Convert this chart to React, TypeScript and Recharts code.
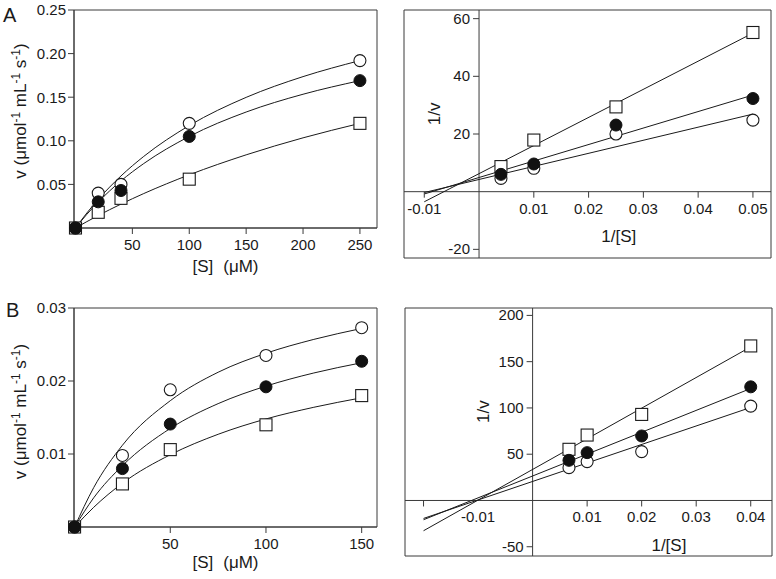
import React from 'react';
import {
  ComposedChart,
  XAxis,
  YAxis,
  Scatter,
  Line,
  ReferenceArea,
  ReferenceLine,
  ReferenceDot,
} from 'recharts';

const FONT = '"Liberation Sans", Arial, Helvetica, sans-serif';
const INK = '#1a1a1a';
const AX = '#3a3a3a';
const TICK_FS = 15;
const TITLE_FS = 17;

// ---------- Panel A : v vs [S] ----------
const sA = [0, 20, 40, 100, 250];
const vA_open = [0, 0.04, 0.05, 0.12, 0.192];
const vA_filled = [0, 0.03, 0.043, 0.105, 0.169];
const vA_square = [0, 0.018, 0.034, 0.056, 0.12];
const fitA_s = [0, 10, 20, 40, 60, 100, 150, 200, 250];
const fitA_open = [0, 0.0172, 0.0328, 0.0597, 0.0821, 0.1175, 0.1498, 0.1736, 0.192];
const fitA_filled = [0, 0.0157, 0.0298, 0.054, 0.0739, 0.105, 0.133, 0.1534, 0.169];
const fitA_square = [0, 0.0073, 0.0143, 0.0274, 0.0395, 0.061, 0.0839, 0.1034, 0.12];
const xTicksA = [50, 100, 150, 200, 250];
const yTicksA = [0.05, 0.1, 0.15, 0.2, 0.25];

// ---------- Panel A : double reciprocal ----------
const invSA = [0.004, 0.01, 0.025, 0.05];
const invA_open = [4.6, 8.1, 20.0, 24.8];
const invA_filled = [6.0, 9.6, 23.1, 32.3];
const invA_square = [8.7, 17.9, 29.4, 55.2];
const lbFitA_x = [-0.01, 0.05];
const lbFitA_open = [-0.3, 26.9];
const lbFitA_filled = [-0.8, 33.5];
const lbFitA_square = [-3.5, 55.0];
const lbA_xTickMarks = [-0.01, 0.01, 0.02, 0.03, 0.04, 0.05];
const lbA_xTickLabels = ['-0.01', '0.01', '0.02', '0.03', '0.04', '0.05'];
const lbA_xTickLabelPos = [-0.01, 0.01, 0.02, 0.03, 0.04, 0.05];
const lbA_yTicks = [60, 40, 20, -20];

// ---------- Panel B : v vs [S] ----------
const sB = [0, 25, 50, 100, 150];
const vB_open = [0, 0.0098, 0.0188, 0.0235, 0.0273];
const vB_filled = [0, 0.008, 0.0141, 0.0192, 0.0227];
const vB_square = [0, 0.0059, 0.0106, 0.014, 0.018];
const fitB_s = [0, 10, 25, 50, 75, 100, 125, 150];
const fitB_open = [0, 0.0054, 0.0112, 0.0173, 0.0212, 0.0238, 0.0257, 0.0272];
const fitB_filled = [0, 0.004, 0.0084, 0.0135, 0.0169, 0.0193, 0.0211, 0.0225];
const fitB_square = [0, 0.0027, 0.006, 0.0099, 0.0127, 0.0148, 0.0164, 0.0177];
const xTicksB = [50, 100, 150];
const yTicksB = [0.01, 0.02, 0.03];

// ---------- Panel B : double reciprocal ----------
const invSB = [0.00667, 0.01, 0.02, 0.04];
const invB_open = [35.5, 42, 52.8, 102];
const invB_filled = [43.4, 51.7, 69.7, 122.8];
const invB_square = [55.3, 70.7, 93, 167];
const lbFitB_x = [-0.02, 0.04];
const lbFitB_open = [-19.4, 100.5];
const lbFitB_filled = [-20.8, 121];
const lbFitB_square = [-32.7, 166];
const lbB_xTickMarks = [-0.02, 0.01, 0.02, 0.03, 0.04];
const lbB_xTickLabels = ['-0.01', '0.01', '0.02', '0.03', '0.04'];
const lbB_xTickLabelPos = [-0.01, 0.01, 0.02, 0.03, 0.04];
const lbB_yTicks = [200, 150, 100, 50, -50];

const pts = (xs: number[], ys: number[]) => xs.map((x, i) => ({ x, y: ys[i] }));

// ---------- marker shapes ----------
const OpenCircle = (p: any) => (
  <circle cx={p.cx} cy={p.cy} r={6} fill="#fff" stroke={INK} strokeWidth={1.1} />
);
const FilledCircle = (p: any) => (
  <circle cx={p.cx} cy={p.cy} r={6} fill="#111" stroke="#111" strokeWidth={1} />
);
const OpenSquare = (p: any) => (
  <rect x={p.cx - 6} y={p.cy - 6} width={12} height={12} fill="#fff" stroke={INK} strokeWidth={1.1} />
);

const textProps = { fontFamily: FONT, fill: INK };

// ---------- label content for left panels ----------
const yTitleLeft = (letter: string, letterX: number, letterY: number, centerShift: number) => (props: any) => {
  const vb = props.viewBox || { x: 0, y: 0, width: 74, height: 218 };
  const bx = vb.x + 26;
  const by = vb.y + vb.height / 2 + centerShift;
  return (
    <g>
      <text
        x={bx}
        y={by}
        transform={`rotate(-90 ${bx} ${by})`}
        textAnchor="middle"
        fontSize={TITLE_FS}
        {...textProps}
      >
        <tspan>v</tspan>
        <tspan> (μmol</tspan>
        <tspan dy={-6} fontSize={12}>-1</tspan>
        <tspan dy={6}> mL</tspan>
        <tspan dy={-6} fontSize={12}>-1</tspan>
        <tspan dy={6}> s</tspan>
        <tspan dy={-6} fontSize={12}>-1</tspan>
        <tspan dy={6}>)</tspan>
      </text>
      <text x={letterX} y={letterY} fontSize={20} {...textProps}>
        {letter}
      </text>
    </g>
  );
};

const xTitleLeft = (below: number) => (props: any) => {
  const vb = props.viewBox || { x: 74, y: 228, width: 303, height: 60 };
  const cx = vb.x + vb.width / 2;
  return (
    <text x={cx} y={vb.y + below} textAnchor="middle" fontSize={TITLE_FS} {...textProps}>
      <tspan>[S]</tspan>
      <tspan dx={10}>(μM)</tspan>
    </text>
  );
};

// ---------- shapes for the crossing axes of right panels ----------
const xTickMark = (p: any) => (
  <line x1={p.cx} y1={p.cy} x2={p.cx} y2={p.cy + 6} stroke={AX} strokeWidth={1} />
);
const xTickLabel = (label: string) => (p: any) => (
  <text x={p.cx} y={p.cy + 22} textAnchor="middle" fontSize={TICK_FS} {...textProps}>
    {label}
  </text>
);
const yTick = (label: string) => (p: any) => (
  <g>
    <line x1={p.cx - 6} y1={p.cy} x2={p.cx} y2={p.cy} stroke={AX} strokeWidth={1} />
    <text x={p.cx - 9} y={p.cy + 5} textAnchor="end" fontSize={TICK_FS} {...textProps}>
      {label}
    </text>
  </g>
);
const xTitleRight = (below: number) => (p: any) => (
  <text x={p.cx} y={p.cy + below} textAnchor="middle" fontSize={TITLE_FS} {...textProps}>
    1/[S]
  </text>
);
const yTitleRight = (left: number) => (p: any) => {
  const bx = p.cx - left;
  return (
    <text
      x={bx}
      y={p.cy}
      transform={`rotate(-90 ${bx} ${p.cy})`}
      textAnchor="middle"
      fontSize={TITLE_FS}
      {...textProps}
    >
      1/v
    </text>
  );
};

type LeftProps = {
  width: number;
  height: number;
  marginTop: number;
  xAxisHeight: number;
  xDomain: [number, number];
  yDomain: [number, number];
  xTicks: number[];
  yTicks: number[];
  yFmt: (v: number) => string;
  s: number[];
  open: number[];
  filled: number[];
  square: number[];
  fitS: number[];
  fitOpen: number[];
  fitFilled: number[];
  fitSquare: number[];
  letter: string;
  letterX: number;
  letterY: number;
  xTitleBelow: number;
  yTitleShift: number;
};

function LeftPanel(pr: LeftProps) {
  return (
    <ComposedChart
      width={pr.width}
      height={pr.height}
      margin={{ top: pr.marginTop, right: 13, bottom: 0, left: 0 }}
    >
      <XAxis
        type="number"
        dataKey="x"
        domain={pr.xDomain}
        ticks={pr.xTicks}
        interval={0}
        height={pr.xAxisHeight}
        tickSize={6}
        tickMargin={5}
        tick={{ fontSize: TICK_FS, fill: INK, fontFamily: FONT }}
        tickLine={{ stroke: AX }}
        axisLine={{ stroke: AX }}
        label={xTitleLeft(pr.xTitleBelow)}
      />
      <YAxis
        type="number"
        dataKey="y"
        domain={pr.yDomain}
        ticks={pr.yTicks}
        interval={0}
        width={74}
        tickSize={6}
        tickMargin={2}
        tickFormatter={pr.yFmt}
        tick={{ fontSize: TICK_FS, fill: INK, fontFamily: FONT }}
        tickLine={{ stroke: AX }}
        axisLine={{ stroke: AX }}
        label={yTitleLeft(pr.letter, pr.letterX, pr.letterY, pr.yTitleShift)}
      />
      <ReferenceArea
        x1={pr.xDomain[0]}
        x2={pr.xDomain[1]}
        y1={pr.yDomain[0]}
        y2={pr.yDomain[1]}
        fill="none"
        fillOpacity={0}
        stroke={AX}
        strokeWidth={1}
        strokeOpacity={1}
        ifOverflow="visible"
      />
      <Line data={pts(pr.fitS, pr.fitSquare)} dataKey="y" type="monotone" dot={false} stroke={INK} strokeWidth={1} isAnimationActive={false} />
      <Line data={pts(pr.fitS, pr.fitFilled)} dataKey="y" type="monotone" dot={false} stroke={INK} strokeWidth={1} isAnimationActive={false} />
      <Line data={pts(pr.fitS, pr.fitOpen)} dataKey="y" type="monotone" dot={false} stroke={INK} strokeWidth={1} isAnimationActive={false} />
      <Scatter data={pts(pr.s, pr.square)} dataKey="y" shape={OpenSquare} isAnimationActive={false} />
      <Scatter data={pts(pr.s, pr.open)} dataKey="y" shape={OpenCircle} isAnimationActive={false} />
      <Scatter data={pts(pr.s, pr.filled)} dataKey="y" shape={FilledCircle} isAnimationActive={false} />
    </ComposedChart>
  );
}

type RightProps = {
  width: number;
  height: number;
  margin: { top: number; right: number; bottom: number; left: number };
  xDomain: [number, number];
  yDomain: [number, number];
  invS: number[];
  open: number[];
  filled: number[];
  square: number[];
  fitX: number[];
  fitOpen: number[];
  fitFilled: number[];
  fitSquare: number[];
  xTickMarks: number[];
  xTickLabels: string[];
  xTickLabelPos: number[];
  yTicks: number[];
  xTitleAt: number;
  xTitleBelow: number;
  yTitleAt: number;
  yTitleLeft: number;
};

function RightPanel(pr: RightProps) {
  return (
    <ComposedChart width={pr.width} height={pr.height} margin={pr.margin}>
      <XAxis type="number" dataKey="x" domain={pr.xDomain} hide />
      <YAxis type="number" dataKey="y" domain={pr.yDomain} hide />
      <ReferenceArea
        x1={pr.xDomain[0]}
        x2={pr.xDomain[1]}
        y1={pr.yDomain[0]}
        y2={pr.yDomain[1]}
        fill="none"
        fillOpacity={0}
        stroke={AX}
        strokeWidth={1}
        strokeOpacity={1}
        ifOverflow="visible"
      />
      <ReferenceLine x={0} stroke={AX} strokeWidth={1} />
      <ReferenceLine y={0} stroke={AX} strokeWidth={1} />
      {pr.xTickMarks.map((t) => (
        <ReferenceDot key={'xm' + t} x={t} y={0} r={1} shape={xTickMark} ifOverflow="visible" />
      ))}
      {pr.xTickLabelPos.map((t, i) => (
        <ReferenceDot key={'xl' + t} x={t} y={0} r={1} shape={xTickLabel(pr.xTickLabels[i])} ifOverflow="visible" />
      ))}
      {pr.yTicks.map((t) => (
        <ReferenceDot key={'y' + t} x={0} y={t} r={1} shape={yTick(String(t))} ifOverflow="visible" />
      ))}
      <ReferenceDot x={pr.xTitleAt} y={0} r={1} shape={xTitleRight(pr.xTitleBelow)} ifOverflow="visible" />
      <ReferenceDot x={0} y={pr.yTitleAt} r={1} shape={yTitleRight(pr.yTitleLeft)} ifOverflow="visible" />
      <Line data={pts(pr.fitX, pr.fitSquare)} dataKey="y" type="linear" dot={false} stroke={INK} strokeWidth={1} isAnimationActive={false} />
      <Line data={pts(pr.fitX, pr.fitFilled)} dataKey="y" type="linear" dot={false} stroke={INK} strokeWidth={1} isAnimationActive={false} />
      <Line data={pts(pr.fitX, pr.fitOpen)} dataKey="y" type="linear" dot={false} stroke={INK} strokeWidth={1} isAnimationActive={false} />
      <Scatter data={pts(pr.invS, pr.square)} dataKey="y" shape={OpenSquare} isAnimationActive={false} />
      <Scatter data={pts(pr.invS, pr.open)} dataKey="y" shape={OpenCircle} isAnimationActive={false} />
      <Scatter data={pts(pr.invS, pr.filled)} dataKey="y" shape={FilledCircle} isAnimationActive={false} />
    </ComposedChart>
  );
}

const fmt2 = (v: number) => v.toFixed(2);

export default function App() {
  return (
    <div
      style={{
        position: 'absolute',
        left: 0,
        top: 0,
        width: 776,
        height: 579,
        background: '#fff',
        overflow: 'hidden',
      }}
    >
      <div style={{ position: 'absolute', left: 0, top: 0 }}>
        <LeftPanel
          width={390}
          height={290}
          marginTop={10}
          xAxisHeight={62}
          xDomain={[-1.3, 265]}
          yDomain={[0, 0.25]}
          xTicks={xTicksA}
          yTicks={yTicksA}
          yFmt={fmt2}
          s={sA}
          open={vA_open}
          filled={vA_filled}
          square={vA_square}
          fitS={fitA_s}
          fitOpen={fitA_open}
          fitFilled={fitA_filled}
          fitSquare={fitA_square}
          letter="A"
          letterX={3}
          letterY={22}
          xTitleBelow={44}
          yTitleShift={-8}
        />
      </div>
      <div style={{ position: 'absolute', left: 390, top: 0 }}>
        <RightPanel
          width={386}
          height={290}
          margin={{ top: 10, right: 5, bottom: 32, left: 14 }}
          xDomain={[-0.0137, 0.0533]}
          yDomain={[-23, 63]}
          invS={invSA}
          open={invA_open}
          filled={invA_filled}
          square={invA_square}
          fitX={lbFitA_x}
          fitOpen={lbFitA_open}
          fitFilled={lbFitA_filled}
          fitSquare={lbFitA_square}
          xTickMarks={lbA_xTickMarks}
          xTickLabels={lbA_xTickLabels}
          xTickLabelPos={lbA_xTickLabelPos}
          yTicks={lbA_yTicks}
          xTitleAt={0.0255}
          xTitleBelow={50}
          yTitleAt={27}
          yTitleLeft={39}
        />
      </div>
      <div style={{ position: 'absolute', left: 0, top: 290 }}>
        <LeftPanel
          width={390}
          height={289}
          marginTop={18}
          xAxisHeight={52}
          xDomain={[-0.3, 158]}
          yDomain={[0, 0.03]}
          xTicks={xTicksB}
          yTicks={yTicksB}
          yFmt={fmt2}
          s={sB}
          open={vB_open}
          filled={vB_filled}
          square={vB_square}
          fitS={fitB_s}
          fitOpen={fitB_open}
          fitFilled={fitB_filled}
          fitSquare={fitB_square}
          letter="B"
          letterX={6}
          letterY={27}
          xTitleBelow={41}
          yTitleShift={-6}
        />
      </div>
      <div style={{ position: 'absolute', left: 390, top: 290 }}>
        <RightPanel
          width={386}
          height={289}
          margin={{ top: 18, right: 4, bottom: 23, left: 15 }}
          xDomain={[-0.0234, 0.0439]}
          yDomain={[-60, 208]}
          invS={invSB}
          open={invB_open}
          filled={invB_filled}
          square={invB_square}
          fitX={lbFitB_x}
          fitOpen={lbFitB_open}
          fitFilled={lbFitB_filled}
          fitSquare={lbFitB_square}
          xTickMarks={lbB_xTickMarks}
          xTickLabels={lbB_xTickLabels}
          xTickLabelPos={lbB_xTickLabelPos}
          yTicks={lbB_yTicks}
          xTitleAt={0.025}
          xTitleBelow={51}
          yTitleAt={96}
          yTitleLeft={44}
        />
      </div>
    </div>
  );
}
